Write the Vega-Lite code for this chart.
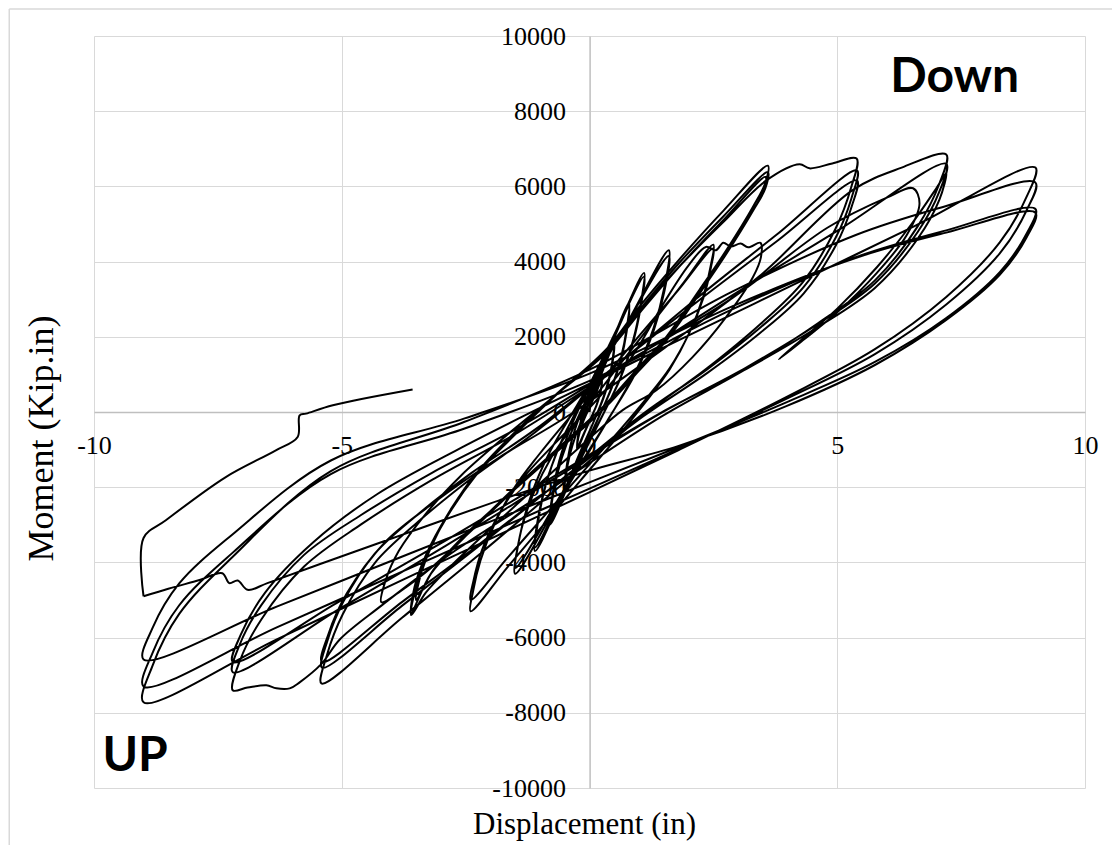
{
"$schema": "https://vega.github.io/schema/vega-lite/v6.json",
"width": 991, "height": 752,
"autosize": {"type": "none"},
"padding": {"left": 94, "top": 36, "right": 27, "bottom": 57},
"background": "white",
"config": {"view": {"stroke": null}, "font": "Liberation Serif"},
"datasets": {
"notes": [{"label": "Down", "x": 7.37, "y": 8510}, {"label": "UP", "x": -9.17, "y": -9550}],
"frame": [{"x": -11.71, "x2": 13, "y": 10718, "y2": -13000}],
"curve": [
{"s":1,"x":0,"y":0},
{"s":1,"x":0.01,"y":100},{"s":1,"x":0.03,"y":220},{"s":1,"x":0.06,"y":340},{"s":1,"x":0.1,"y":475},{"s":1,"x":0.18,"y":690},{"s":1,"x":0.25,"y":900},
{"s":1,"x":0.24,"y":680},{"s":1,"x":0.2,"y":440},{"s":1,"x":0.14,"y":180},{"s":1,"x":0.05,"y":-100},{"s":1,"x":-0.1,"y":-550},{"s":1,"x":-0.25,"y":-1000},
{"s":1,"x":-0.24,"y":-790},{"s":1,"x":-0.2,"y":-550},{"s":1,"x":-0.14,"y":-300},{"s":1,"x":-0.05,"y":-20},{"s":1,"x":0.1,"y":410},{"s":1,"x":0.25,"y":850},
{"s":1,"x":0.24,"y":640},{"s":1,"x":0.2,"y":410},{"s":1,"x":0.14,"y":170},{"s":1,"x":0.05,"y":-100},{"s":1,"x":-0.1,"y":-530},{"s":1,"x":-0.25,"y":-950},
{"s":1,"x":-0.23,"y":-620},{"s":1,"x":-0.18,"y":-260},{"s":1,"x":-0.09,"y":130},{"s":1,"x":0.05,"y":550},{"s":1,"x":0.28,"y":1230},{"s":1,"x":0.5,"y":1900},
{"s":1,"x":0.47,"y":1440},{"s":1,"x":0.4,"y":930},{"s":1,"x":0.28,"y":390},{"s":1,"x":0.1,"y":-210},{"s":1,"x":-0.2,"y":-1160},{"s":1,"x":-0.5,"y":-2100},
{"s":1,"x":-0.47,"y":-1650},{"s":1,"x":-0.4,"y":-1160},{"s":1,"x":-0.28,"y":-630},{"s":1,"x":-0.1,"y":-40},{"s":1,"x":0.2,"y":880},{"s":1,"x":0.5,"y":1800},
{"s":1,"x":0.47,"y":1360},{"s":1,"x":0.4,"y":880},{"s":1,"x":0.28,"y":360},{"s":1,"x":0.1,"y":-210},{"s":1,"x":-0.2,"y":-1100},{"s":1,"x":-0.5,"y":-2000},
{"s":1,"x":-0.46,"y":-1440},{"s":1,"x":-0.37,"y":-810},{"s":1,"x":-0.21,"y":-150},{"s":1,"x":0.02,"y":590},{"s":1,"x":0.41,"y":1740},{"s":1,"x":0.8,"y":2900},
{"s":1,"x":0.75,"y":2220},{"s":1,"x":0.64,"y":1470},{"s":1,"x":0.45,"y":670},{"s":1,"x":0.16,"y":-220},{"s":1,"x":-0.32,"y":-1610},{"s":1,"x":-0.8,"y":-3000},
{"s":1,"x":-0.75,"y":-2330},{"s":1,"x":-0.64,"y":-1600},{"s":1,"x":-0.45,"y":-810},{"s":1,"x":-0.16,"y":60},{"s":1,"x":0.32,"y":1430},{"s":1,"x":0.8,"y":2800},
{"s":1,"x":0.75,"y":2140},{"s":1,"x":0.64,"y":1420},{"s":1,"x":0.45,"y":650},{"s":1,"x":0.16,"y":-210},{"s":1,"x":-0.32,"y":-1550},{"s":1,"x":-0.8,"y":-2900},
{"s":1,"x":-0.74,"y":-2140},{"s":1,"x":-0.61,"y":-1300},{"s":1,"x":-0.38,"y":-410},{"s":1,"x":-0.04,"y":580},{"s":1,"x":0.53,"y":2140},{"s":1,"x":1.1,"y":3700},
{"s":1,"x":1.03,"y":2850},{"s":1,"x":0.88,"y":1910},{"s":1,"x":0.62,"y":900},{"s":1,"x":0.22,"y":-210},{"s":1,"x":-0.44,"y":-1950},{"s":1,"x":-1.1,"y":-3700},
{"s":1,"x":-1.03,"y":-2860},{"s":1,"x":-0.88,"y":-1930},{"s":1,"x":-0.62,"y":-940},{"s":1,"x":-0.22,"y":150},{"s":1,"x":0.44,"y":1880},{"s":1,"x":1.1,"y":3600},
{"s":1,"x":1.03,"y":2770},{"s":1,"x":0.88,"y":1860},{"s":1,"x":0.62,"y":880},{"s":1,"x":0.22,"y":-200},{"s":1,"x":-0.44,"y":-1900},{"s":1,"x":-1.1,"y":-3600},
{"s":1,"x":-1.02,"y":-2690},{"s":1,"x":-0.83,"y":-1690},{"s":1,"x":-0.51,"y":-610},{"s":1,"x":-0.02,"y":570},{"s":1,"x":0.79,"y":2440},{"s":1,"x":1.6,"y":4300},
{"s":1,"x":1.51,"y":3310},{"s":1,"x":1.29,"y":2220},{"s":1,"x":0.92,"y":1050},{"s":1,"x":0.36,"y":-240},{"s":1,"x":-0.57,"y":-2270},{"s":1,"x":-1.5,"y":-4300},
{"s":1,"x":-1.41,"y":-3330},{"s":1,"x":-1.19,"y":-2260},{"s":1,"x":-0.82,"y":-1110},{"s":1,"x":-0.26,"y":160},{"s":1,"x":0.67,"y":2160},{"s":1,"x":1.6,"y":4150},
{"s":1,"x":1.51,"y":3200},{"s":1,"x":1.29,"y":2140},{"s":1,"x":0.92,"y":1010},{"s":1,"x":0.36,"y":-230},{"s":1,"x":-0.57,"y":-2190},{"s":1,"x":-1.5,"y":-4150},
{"s":1,"x":-1.46,"y":-3680},{"s":1,"x":-1.34,"y":-2950},{"s":1,"x":-1.1,"y":-2070},{"s":1,"x":-0.78,"y":-1230},{"s":1,"x":-0.38,"y":-450},{"s":1,"x":0.1,"y":390},{"s":1,"x":0.7,"y":1410},{"s":1,"x":1.3,"y":2420},{"s":1,"x":1.9,"y":3440},{"s":1,"x":2.5,"y":4450},
{"s":1,"x":2.45,"y":3910},{"s":1,"x":2.3,"y":3090},{"s":1,"x":2.01,"y":2090},{"s":1,"x":1.62,"y":1140},{"s":1,"x":1.13,"y":260},{"s":1,"x":0.54,"y":-700},{"s":1,"x":-0.2,"y":-1850},{"s":1,"x":-0.93,"y":-3000},{"s":1,"x":-1.67,"y":-4150},{"s":1,"x":-2.4,"y":-5300},
{"s":1,"x":-2.35,"y":-4770},{"s":1,"x":-2.2,"y":-3950},{"s":1,"x":-1.91,"y":-2960},{"s":1,"x":-1.52,"y":-2020},{"s":1,"x":-1.03,"y":-1150},{"s":1,"x":-0.44,"y":-200},{"s":1,"x":0.3,"y":930},{"s":1,"x":1.03,"y":2070},{"s":1,"x":1.77,"y":3210},{"s":1,"x":2.5,"y":4350},
{"s":1,"x":2.45,"y":3840},{"s":1,"x":2.3,"y":3040},{"s":1,"x":2.01,"y":2090},{"s":1,"x":1.62,"y":1170},{"s":1,"x":1.13,"y":330},{"s":1,"x":0.54,"y":-590},{"s":1,"x":-0.2,"y":-1690},{"s":1,"x":-0.93,"y":-2790},{"s":1,"x":-1.67,"y":-3900},{"s":1,"x":-2.4,"y":-5000},
{"s":1,"x":-2.34,"y":-4480},{"s":1,"x":-2.17,"y":-3670},{"s":1,"x":-1.82,"y":-2700},{"s":1,"x":-1.35,"y":-1770},{"s":1,"x":-0.76,"y":-920},{"s":1,"x":-0.06,"y":20},{"s":1,"x":0.82,"y":1400},{"s":1,"x":1.5,"y":2900},{"s":1,"x":2.0,"y":3900},{"s":1,"x":2.35,"y":4390},{"s":1,"x":2.55,"y":4300},{"s":1,"x":2.7,"y":4500},{"s":1,"x":2.85,"y":4400},{"s":1,"x":3.05,"y":4480},{"s":1,"x":3.2,"y":4380},{"s":1,"x":3.45,"y":4500},
{"s":1,"x":3.46,"y":4120},{"s":1,"x":3.3,"y":3590},{"s":1,"x":2.76,"y":2530},{"s":1,"x":2.08,"y":1460},{"s":1,"x":1.35,"y":580},{"s":1,"x":0.67,"y":50},{"s":1,"x":0,"y":-700},{"s":1,"x":-1,"y":-1900},{"s":1,"x":-2,"y":-3100},{"s":1,"x":-2.8,"y":-4100},{"s":1,"x":-3.3,"y":-4800},{"s":1,"x":-3.6,"y":-5400},
{"s":1,"x":-3.53,"y":-4800},{"s":1,"x":-3.31,"y":-3900},{"s":1,"x":-2.88,"y":-2800},{"s":1,"x":-2.3,"y":-1700},{"s":1,"x":-1.58,"y":-700},{"s":1,"x":-0.72,"y":400},{"s":1,"x":0.36,"y":1700},{"s":1,"x":1.0,"y":2790},{"s":1,"x":1.8,"y":4040},{"s":1,"x":2.7,"y":5350},{"s":1,"x":3.6,"y":6550},
{"s":1,"x":3.55,"y":6100},{"s":1,"x":3.3,"y":5460},{"s":1,"x":2.76,"y":4300},{"s":1,"x":2.22,"y":3250},{"s":1,"x":1.55,"y":2000},{"s":1,"x":1.0,"y":1200},{"s":1,"x":0.34,"y":230},{"s":1,"x":-0.5,"y":-800},{"s":1,"x":-1.5,"y":-2000},{"s":1,"x":-2.5,"y":-3300},{"s":1,"x":-3.2,"y":-4300},{"s":1,"x":-3.6,"y":-5350},
{"s":1,"x":-3.53,"y":-4650},{"s":1,"x":-3.3,"y":-3800},{"s":1,"x":-2.85,"y":-2700},{"s":1,"x":-2.3,"y":-1650},{"s":1,"x":-1.55,"y":-650},{"s":1,"x":-0.7,"y":420},{"s":1,"x":0.36,"y":1650},{"s":1,"x":1.0,"y":2700},{"s":1,"x":1.8,"y":3950},{"s":1,"x":2.7,"y":5200},{"s":1,"x":3.6,"y":6380},
{"s":1,"x":3.55,"y":5950},{"s":1,"x":3.3,"y":5350},{"s":1,"x":2.76,"y":4200},{"s":1,"x":2.22,"y":3150},{"s":1,"x":1.55,"y":1900},{"s":1,"x":1.0,"y":1100},{"s":1,"x":0.34,"y":150},{"s":1,"x":-0.5,"y":-850},{"s":1,"x":-1.5,"y":-2050},{"s":1,"x":-2.5,"y":-3300},{"s":1,"x":-3.2,"y":-4150},{"s":1,"x":-3.8,"y":-4750},{"s":1,"x":-4.2,"y":-5060},
{"s":1,"x":-4.12,"y":-4500},{"s":1,"x":-3.85,"y":-3700},{"s":1,"x":-3.3,"y":-2700},{"s":1,"x":-2.6,"y":-1700},{"s":1,"x":-1.7,"y":-650},{"s":1,"x":-0.7,"y":430},{"s":1,"x":0.38,"y":1630},{"s":1,"x":1.0,"y":2620},{"s":1,"x":1.8,"y":3850},{"s":1,"x":2.7,"y":5100},{"s":1,"x":3.55,"y":6250},
{"s":1,"x":3.5,"y":5850},{"s":1,"x":3.25,"y":5250},{"s":1,"x":2.7,"y":4100},{"s":1,"x":2.15,"y":3050},{"s":1,"x":1.5,"y":1850},{"s":1,"x":0.95,"y":1050},{"s":1,"x":0.3,"y":100},{"s":1,"x":-0.5,"y":-870},{"s":1,"x":-1.5,"y":-2050},{"s":1,"x":-2.5,"y":-3250},{"s":1,"x":-3.15,"y":-4200},{"s":1,"x":-3.5,"y":-5000},
{"s":1,"x":-3.43,"y":-4450},{"s":1,"x":-3.2,"y":-3600},{"s":1,"x":-2.78,"y":-2550},{"s":1,"x":-2.2,"y":-1500},{"s":1,"x":-1.5,"y":-530},{"s":1,"x":-0.65,"y":500},{"s":1,"x":0.38,"y":1700},{"s":1,"x":1.0,"y":2650},{"s":1,"x":1.8,"y":3850},{"s":1,"x":2.7,"y":5050},{"s":1,"x":3.57,"y":6160},{"s":1,"x":4.24,"y":6590},{"s":1,"x":4.44,"y":6480},{"s":1,"x":4.9,"y":6610},{"s":1,"x":5.39,"y":6740},
{"s":1,"x":5.28,"y":5970},{"s":1,"x":4.96,"y":4860},{"s":1,"x":4.31,"y":3460},{"s":1,"x":3.45,"y":2340},{"s":1,"x":2.37,"y":1160},{"s":1,"x":1.07,"y":-100},{"s":1,"x":-0.55,"y":-1920},{"s":1,"x":-2.17,"y":-3730},{"s":1,"x":-3.79,"y":-5480},{"s":1,"x":-5.41,"y":-7220},
{"s":1,"x":-5.3,"y":-6470},{"s":1,"x":-4.98,"y":-5380},{"s":1,"x":-4.33,"y":-4010},{"s":1,"x":-3.46,"y":-2920},{"s":1,"x":-2.38,"y":-1760},{"s":1,"x":-1.09,"y":-530},{"s":1,"x":0.54,"y":1240},{"s":1,"x":2.16,"y":3020},{"s":1,"x":3.78,"y":4720},{"s":1,"x":5.4,"y":6430},
{"s":1,"x":5.29,"y":5700},{"s":1,"x":4.97,"y":4640},{"s":1,"x":4.32,"y":3320},{"s":1,"x":3.46,"y":2260},{"s":1,"x":2.38,"y":1140},{"s":1,"x":1.08,"y":-50},{"s":1,"x":-0.54,"y":-1770},{"s":1,"x":-2.16,"y":-3490},{"s":1,"x":-3.78,"y":-5150},{"s":1,"x":-5.4,"y":-6800},
{"s":1,"x":-5.29,"y":-6090},{"s":1,"x":-4.97,"y":-5050},{"s":1,"x":-4.32,"y":-3750},{"s":1,"x":-3.46,"y":-2720},{"s":1,"x":-2.38,"y":-1620},{"s":1,"x":-1.08,"y":-450},{"s":1,"x":0.54,"y":1240},{"s":1,"x":2.16,"y":2920},{"s":1,"x":3.78,"y":4540},{"s":1,"x":5.4,"y":6160},
{"s":1,"x":5.29,"y":5460},{"s":1,"x":4.97,"y":4430},{"s":1,"x":4.32,"y":3150},{"s":1,"x":3.46,"y":2120},{"s":1,"x":2.38,"y":1040},{"s":1,"x":1.08,"y":-120},{"s":1,"x":-0.54,"y":-1780},{"s":1,"x":-2.16,"y":-3450},{"s":1,"x":-3.78,"y":-5050},{"s":1,"x":-5.4,"y":-6650},
{"s":1,"x":-5.27,"y":-5910},{"s":1,"x":-4.9,"y":-4830},{"s":1,"x":-4.14,"y":-3480},{"s":1,"x":-3.13,"y":-2400},{"s":1,"x":-1.87,"y":-1250},{"s":1,"x":-0.36,"y":-40},{"s":1,"x":1.53,"y":1720},{"s":1,"x":3.42,"y":3600},{"s":1,"x":5.31,"y":5900},{"s":1,"x":6.3,"y":6500},{"s":1,"x":7.2,"y":6850},
{"s":1,"x":7.06,"y":6070},{"s":1,"x":6.62,"y":4930},{"s":1,"x":5.76,"y":3500},{"s":1,"x":4.61,"y":2360},{"s":1,"x":3.17,"y":1150},{"s":1,"x":1.44,"y":-130},{"s":1,"x":-0.72,"y":-1990},{"s":1,"x":-2.88,"y":-3840},{"s":1,"x":-4.2,"y":-5150},{"s":1,"x":-5.04,"y":-6050},{"s":1,"x":-5.41,"y":-6700},{"s":1,"x":-5.85,"y":-7190},{"s":1,"x":-6.05,"y":-7350},{"s":1,"x":-6.32,"y":-7350},{"s":1,"x":-6.52,"y":-7270},{"s":1,"x":-6.9,"y":-7330},{"s":1,"x":-7.2,"y":-7400},
{"s":1,"x":-7.06,"y":-6630},{"s":1,"x":-6.62,"y":-5510},{"s":1,"x":-5.76,"y":-4110},{"s":1,"x":-4.61,"y":-2990},{"s":1,"x":-3.17,"y":-1800},{"s":1,"x":-1.44,"y":-540},{"s":1,"x":0.72,"y":1280},{"s":1,"x":2.88,"y":3100},{"s":1,"x":5.04,"y":4850},{"s":1,"x":7.2,"y":6600},
{"s":1,"x":7.06,"y":5860},{"s":1,"x":6.62,"y":4780},{"s":1,"x":5.76,"y":3420},{"s":1,"x":4.61,"y":2340},{"s":1,"x":3.17,"y":1190},{"s":1,"x":1.44,"y":-30},{"s":1,"x":-0.72,"y":-1780},{"s":1,"x":-2.88,"y":-3540},{"s":1,"x":-5.04,"y":-5230},{"s":1,"x":-7.2,"y":-6920},
{"s":1,"x":-7.06,"y":-6190},{"s":1,"x":-6.62,"y":-5130},{"s":1,"x":-5.76,"y":-3800},{"s":1,"x":-4.61,"y":-2740},{"s":1,"x":-3.17,"y":-1610},{"s":1,"x":-1.44,"y":-420},{"s":1,"x":0.72,"y":1310},{"s":1,"x":2.88,"y":3030},{"s":1,"x":4.8,"y":4900},{"s":1,"x":6.0,"y":5700},{"s":1,"x":6.53,"y":5950},{"s":1,"x":6.66,"y":5550},{"s":1,"x":6.4,"y":4700},{"s":1,"x":5.8,"y":3700},{"s":1,"x":5.0,"y":2650},{"s":1,"x":4.3,"y":1900},{"s":1,"x":3.82,"y":1400},{"s":1,"x":4.3,"y":1950},{"s":1,"x":5.0,"y":2750},{"s":1,"x":5.8,"y":3850},{"s":1,"x":6.5,"y":5000},{"s":1,"x":7.0,"y":5950},{"s":1,"x":7.2,"y":6350},
{"s":1,"x":7.06,"y":5640},{"s":1,"x":6.62,"y":4600},{"s":1,"x":5.76,"y":3300},{"s":1,"x":4.61,"y":2260},{"s":1,"x":3.17,"y":1150},{"s":1,"x":1.44,"y":-20},{"s":1,"x":-0.72,"y":-1710},{"s":1,"x":-2.88,"y":-3400},{"s":1,"x":-5.04,"y":-5030},{"s":1,"x":-7.2,"y":-6650},
{"s":1,"x":-7.04,"y":-5930},{"s":1,"x":-6.55,"y":-4810},{"s":1,"x":-5.58,"y":-3470},{"s":1,"x":-4.28,"y":-2180},{"s":1,"x":-2.66,"y":-1000},{"s":1,"x":-0.72,"y":290},{"s":1,"x":1.71,"y":1850},{"s":1,"x":4.14,"y":3400},{"s":1,"x":6.57,"y":4950},{"s":1,"x":9,"y":6500},
{"s":1,"x":8.82,"y":5720},{"s":1,"x":8.28,"y":4510},{"s":1,"x":7.2,"y":3060},{"s":1,"x":5.76,"y":1670},{"s":1,"x":3.96,"y":390},{"s":1,"x":1.8,"y":-1010},{"s":1,"x":-0.9,"y":-2690},{"s":1,"x":-3.6,"y":-4360},{"s":1,"x":-6.3,"y":-6040},{"s":1,"x":-9,"y":-7720},
{"s":1,"x":-8.82,"y":-6750},{"s":1,"x":-8.28,"y":-5370},{"s":1,"x":-7.2,"y":-3850},{"s":1,"x":-5.22,"y":-1570},{"s":1,"x":-2.52,"y":-260},{"s":1,"x":0,"y":1125},{"s":1,"x":2.88,"y":3200},{"s":1,"x":5.4,"y":4720},{"s":1,"x":7.2,"y":5480},{"s":1,"x":9,"y":6100},
{"s":1,"x":8.82,"y":5360},{"s":1,"x":8.28,"y":4220},{"s":1,"x":7.2,"y":2860},{"s":1,"x":5.76,"y":1540},{"s":1,"x":3.96,"y":340},{"s":1,"x":1.8,"y":-980},{"s":1,"x":-0.9,"y":-2560},{"s":1,"x":-3.6,"y":-4140},{"s":1,"x":-6.3,"y":-5720},{"s":1,"x":-9,"y":-7300},
{"s":1,"x":-8.82,"y":-6410},{"s":1,"x":-8.28,"y":-5140},{"s":1,"x":-7.2,"y":-3740},{"s":1,"x":-5.22,"y":-1650},{"s":1,"x":-2.52,"y":-440},{"s":1,"x":0,"y":830},{"s":1,"x":2.88,"y":2730},{"s":1,"x":5.4,"y":4130},{"s":1,"x":7.2,"y":4830},{"s":1,"x":9,"y":5400},
{"s":1,"x":8.82,"y":4740},{"s":1,"x":8.28,"y":3720},{"s":1,"x":7.2,"y":2500},{"s":1,"x":5.76,"y":1330},{"s":1,"x":3.96,"y":250},{"s":1,"x":1.8,"y":-930},{"s":1,"x":-0.9,"y":-2340},{"s":1,"x":-3.6,"y":-3750},{"s":1,"x":-6.3,"y":-5170},{"s":1,"x":-9,"y":-6580},
{"s":1,"x":-8.82,"y":-5750},{"s":1,"x":-8.28,"y":-4560},{"s":1,"x":-7.2,"y":-3250},{"s":1,"x":-5.22,"y":-1290},{"s":1,"x":-2.52,"y":-170},{"s":1,"x":0,"y":1020},{"s":1,"x":2.88,"y":2810},{"s":1,"x":5.4,"y":4110},{"s":1,"x":7.2,"y":4770},{"s":1,"x":9,"y":5300},
{"s":1,"x":8.82,"y":4640},{"s":1,"x":8.28,"y":3650},{"s":1,"x":7.2,"y":2450},{"s":1,"x":5.76,"y":1250},{"s":1,"x":3.96,"y":150},{"s":1,"x":1.8,"y":-900},{"s":1,"x":0,"y":-1560},{"s":1,"x":-1.82,"y":-2350},{"s":1,"x":-3.6,"y":-3180},{"s":1,"x":-5.45,"y":-4050},{"s":1,"x":-6.5,"y":-4550},{"s":1,"x":-6.9,"y":-4730},{"s":1,"x":-7.1,"y":-4480},{"s":1,"x":-7.27,"y":-4550},{"s":1,"x":-7.41,"y":-4290},{"s":1,"x":-7.87,"y":-4470},{"s":1,"x":-8.5,"y":-4700},{"s":1,"x":-9,"y":-4900},
{"s":2,"x":-9,"y":-4900},{"s":2,"x":-9,"y":-3350},{"s":2,"x":-8.55,"y":-2880},{"s":2,"x":-7.34,"y":-1730},{"s":2,"x":-6.33,"y":-1020},{"s":2,"x":-5.89,"y":-665},{"s":2,"x":-5.85,"y":-88},{"s":2,"x":-5.72,"y":-44},{"s":2,"x":-5.18,"y":178},{"s":2,"x":-3.57,"y":596}
]
},
"resolve": {"axis": {"x": "independent", "y": "independent"}},
"layer": [
{
"data": {"name": "curve"},
"mark": {"type": "line", "color": "black", "strokeWidth": 2, "strokeJoin": "round", "interpolate": "catmull-rom"},
"encoding": {
"x": {"field": "x", "type": "quantitative", "scale": {"domain": [-10, 10], "nice": false, "zero": false},
 "axis": {"orient": "bottom", "values": [-10, -5, 0, 5, 10], "grid": true, "gridColor": "#d9d9d9", "gridWidth": 1, "labels": false, "ticks": false, "domain": false, "zindex": 0,
 "title": "Displacement (in)", "titleFont": "Liberation Serif", "titleFontSize": 31, "titleFontWeight": "normal", "titleColor": "black", "titleBaseline": "alphabetic", "titleX": 490, "titleY": 45}},
"y": {"field": "y", "type": "quantitative", "scale": {"domain": [-10000, 10000], "nice": false, "zero": false},
 "axis": {"orient": "left", "values": [-10000, -8000, -6000, -4000, -2000, 0, 2000, 4000, 6000, 8000, 10000], "grid": true, "gridColor": "#d9d9d9", "gridWidth": 1, "labels": false, "ticks": false, "domain": false, "zindex": 0,
 "title": "Moment (Kip.in)", "titleFont": "Liberation Serif", "titleFontSize": 36, "titleFontWeight": "normal", "titleColor": "black", "titleBaseline": "alphabetic", "titleAngle": -90, "titleX": -42, "titleY": 402}},
"detail": {"field": "s", "type": "nominal"},
"order": {"value": null}
}
},
{
"data": {"name": "notes"},
"mark": {"type": "text", "font": "Lato", "fontWeight": "bold", "fontSize": 48, "baseline": "alphabetic", "align": "center", "color": "black"},
"encoding": {
"x": {"field": "x", "type": "quantitative",
 "axis": {"orient": "bottom", "offset": -376, "values": [-10, -5, 0, 5, 10], "grid": false, "ticks": false, "domain": true, "domainColor": "#bfbfbf", "domainWidth": 1.3, "zindex": 0,
 "labelFont": "Liberation Serif", "labelFontSize": 26, "labelColor": "black", "labelPadding": 20, "labelFlush": false, "labelOverlap": false, "labelBound": false, "labelExpr": "'' + datum.value", "title": null}},
"y": {"field": "y", "type": "quantitative",
 "axis": {"orient": "left", "offset": -495.5, "values": [-10000, -8000, -6000, -4000, -2000, 0, 2000, 4000, 6000, 8000, 10000], "grid": false, "ticks": false, "domain": true, "domainColor": "#bfbfbf", "domainWidth": 1.3, "zindex": 0,
 "labelFont": "Liberation Serif", "labelFontSize": 26, "labelColor": "black", "labelPadding": 24, "labelFlush": false, "labelOverlap": false, "labelBound": false, "labelExpr": "'' + datum.value", "title": null}},
"text": {"field": "label", "type": "nominal"}
}
},
{
"data": {"name": "frame"},
"mark": {"type": "rule", "color": "#d9d9d9", "strokeWidth": 1.5, "clip": false},
"encoding": {
"x": {"field": "x", "type": "quantitative", "axis": null},
"y": {"field": "y", "type": "quantitative", "axis": null},
"y2": {"field": "y2"}
}
},
{
"data": {"name": "frame"},
"mark": {"type": "rule", "color": "#d9d9d9", "strokeWidth": 1.5, "clip": false},
"encoding": {
"x": {"field": "x", "type": "quantitative", "axis": null},
"x2": {"field": "x2"},
"y": {"field": "y", "type": "quantitative", "axis": null}
}
}
]
}
